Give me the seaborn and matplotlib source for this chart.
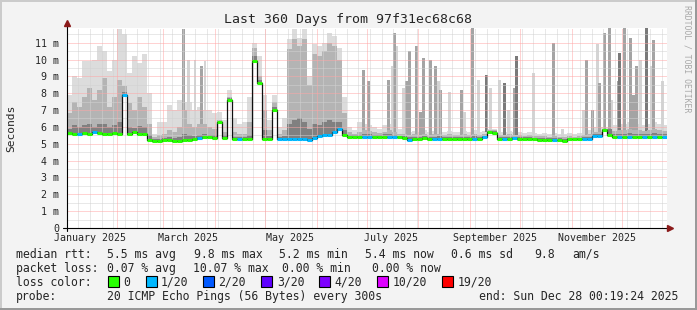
import numpy as np
import matplotlib
matplotlib.use("Agg")
import matplotlib.pyplot as plt
from matplotlib.patches import Rectangle
import seaborn as sns

# ---------------- data ----------------
# 120 buckets of 3 days, starting 2025-01-02
bucket_days = np.arange(0, 360, 3)

median_ms = [
    5.65, 5.6, 5.6, 5.65, 5.6, 5.7, 5.65, 5.6, 5.6, 5.65, 5.6, 7.9, 5.6, 5.7, 5.6, 5.6, 5.2, 5.15, 5.15,
    5.2, 5.2, 5.15, 5.15, 5.2, 5.25, 5.3, 5.35, 5.4, 5.4, 5.35, 6.3, 5.35, 7.6, 5.3, 5.3, 5.3, 5.3, 9.9, 8.6,
    5.3, 5.3, 7.0, 5.3, 5.3, 5.3, 5.3, 5.3, 5.3, 5.25, 5.35, 5.45, 5.5, 5.5, 5.7, 5.9, 5.5, 5.4, 5.4, 5.4,
    5.4, 5.42, 5.4, 5.4, 5.42, 5.4, 5.4, 5.38, 5.35, 5.25, 5.3, 5.3, 5.32, 5.3, 5.3, 5.3, 5.28, 5.3, 5.3, 5.3,
    5.3, 5.3, 5.3, 5.3, 5.4, 5.7, 5.65, 5.3, 5.3, 5.3, 5.32, 5.3, 5.3, 5.3, 5.28, 5.25, 5.25, 5.25, 5.25, 5.25,
    5.18, 5.3, 5.28, 5.28, 5.28, 5.3, 5.45, 5.45, 5.8, 5.5, 5.42, 5.42, 5.42, 5.42, 5.42, 5.42, 5.42, 5.42, 5.42, 5.42, 5.42,
]
loss_level = [
    0, 0, 1, 0, 0, 1, 0, 0, 0, 0, 0, 1, 0, 0, 0, 0, 0, 0, 0,
    0, 0, 0, 0, 0, 0, 0, 1, 0, 0, 0, 0, 0, 0, 0, 1, 0, 0, 0, 0,
    0, 0, 0, 1, 1, 1, 1, 1, 1, 1, 1, 1, 1, 1, 1, 1, 0, 0, 0, 0,
    1, 1, 0, 0, 0, 1, 1, 0, 0, 1, 0, 0, 0, 0, 1, 1, 0, 0, 0, 0,
    0, 0, 1, 0, 1, 0, 0, 0, 1, 0, 1, 0, 0, 0, 0, 0, 0, 0, 1, 0,
    0, 0, 0, 0, 1, 1, 1, 1, 0, 0, 0, 1, 0, 1, 0, 0, 1, 0, 1, 0, 1,
]
smoke_hi = [
    7.9, 9.0, 8.9, 9.9, 9.9, 10.0, 10.8, 10.5, 9.3, 10.0, 11.8, 11.5, 9.2, 10.2, 9.8, 10.3, 8.0, 5.6, 6.3,
    6.3, 7.3, 7.0, 7.6, 7.5, 7.5, 7.0, 7.2, 7.0, 7.0, 6.8, 6.9, 6.4, 8.2, 6.5, 6.2, 6.3, 7.8, 11.0, 10.2,
    7.9, 6.4, 7.9, 6.0, 6.5, 11.2, 11.8, 11.3, 11.8, 9.0, 10.9, 10.8, 11.0, 11.6, 11.4, 10.7, 7.8, 6.0, 5.8, 6.3,
    6.2, 6.1, 6.0, 5.9, 6.1, 6.2, 6.0, 5.9, 5.8, 5.7, 5.75, 5.7, 5.8, 5.7, 5.75, 5.8, 5.7, 5.75, 5.7, 5.7,
    5.75, 5.7, 5.8, 5.7, 5.75, 5.9, 5.9, 5.7, 5.7, 5.75, 5.7, 5.7, 5.65, 5.7, 5.65, 5.6, 5.65, 5.6, 5.65, 5.6,
    5.6, 5.65, 5.6, 5.65, 5.7, 5.8, 6.0, 6.0, 6.0, 6.0, 6.1, 6.2, 6.2, 6.3, 6.2, 6.2, 6.1, 6.2, 6.3, 6.2, 6.1,
]
smoke_mid = [
    6.8, 7.5, 7.2, 7.8, 8.3, 7.6, 8.2, 8.9, 7.2, 7.8, 8.8, 8.4, 7.4, 7.0, 7.8, 7.2, 6.2, 5.4, 5.5,
    5.6, 5.8, 5.7, 6.0, 7.0, 6.2, 6.0, 6.2, 6.2, 6.0, 5.9, 6.4, 5.7, 7.8, 5.7, 5.6, 5.6, 6.3, 10.7, 9.0,
    7.0, 5.8, 7.5, 5.6, 5.8, 10.6, 11.2, 10.8, 11.2, 8.5, 10.3, 10.2, 10.5, 11.0, 10.8, 10.0, 6.8, 5.7, 5.6, 5.7,
    5.8, 5.75, 5.7, 5.65, 5.7, 5.8, 5.7, 5.6, 5.55, 5.5, 5.55, 5.5, 5.55, 5.5, 5.55, 5.55, 5.5, 5.55, 5.5, 5.5,
    5.55, 5.5, 5.55, 5.5, 5.55, 5.8, 5.8, 5.5, 5.5, 5.55, 5.5, 5.5, 5.45, 5.5, 5.45, 5.45, 5.45, 5.4, 5.45, 5.4,
    5.4, 5.45, 5.4, 5.45, 5.5, 5.55, 5.7, 5.7, 5.9, 5.9, 5.75, 5.8, 5.8, 5.85, 5.8, 5.8, 5.75, 5.8, 5.85, 5.8, 5.75,
]
smoke_lo = [
    5.9, 6.1, 6.0, 6.1, 6.2, 6.0, 6.2, 6.2, 6.0, 6.1, 6.3, 8.1, 6.0, 5.95, 6.05, 6.0, 5.5, 5.3, 5.3,
    5.35, 5.4, 5.35, 5.4, 5.6, 5.5, 5.45, 5.5, 5.55, 5.5, 5.5, 6.3, 5.5, 7.7, 5.4, 5.4, 5.4, 5.5, 10.2, 8.8,
    5.8, 5.45, 7.2, 5.4, 5.45, 6.2, 6.4, 6.5, 6.3, 5.9, 6.2, 6.1, 6.3, 6.4, 6.3, 6.3, 5.8, 5.5, 5.5, 5.5,
    5.55, 5.55, 5.5, 5.5, 5.55, 5.6, 5.5, 5.45, 5.45, 5.4, 5.42, 5.4, 5.45, 5.4, 5.42, 5.45, 5.4, 5.42, 5.4, 5.4,
    5.42, 5.4, 5.45, 5.4, 5.48, 5.75, 5.75, 5.4, 5.4, 5.42, 5.4, 5.4, 5.38, 5.4, 5.35, 5.35, 5.35, 5.32, 5.35, 5.32,
    5.3, 5.35, 5.32, 5.35, 5.4, 5.42, 5.55, 5.55, 5.85, 5.85, 5.6, 5.6, 5.6, 5.65, 5.6, 5.6, 5.58, 5.6, 5.65, 5.6, 5.55,
]

# thin outlier spikes (day offset, top in ms, shade)
spike_day = [70.2, 73.2, 77.1, 81.0, 83.1,
             178.2, 181.2, 193.2, 195.6, 196.8, 198.0, 202.2, 204.0, 205.8, 210.0, 212.4, 214.2, 218.4,
             221.4, 223.2, 224.4, 229.8, 237.0, 238.8, 243.6, 247.2, 252.0, 254.4, 259.8, 262.8, 265.2,
             268.8, 270.0, 280.2, 292.2, 297.6, 310.2, 312.0, 315.6, 318.6, 319.8, 322.8, 325.8, 327.0,
             331.2, 331.8, 334.8, 338.4, 340.2, 342.0, 344.4, 348.0, 351.0, 352.2, 357.6]
spike_top = [11.8, 10.0, 10.0, 9.6, 9.9,
             9.4, 8.7, 8.8, 9.6, 11.6, 10.8, 8.3, 8.7, 10.5, 10.8, 6.9, 10.1, 10.0,
             9.6, 8.7, 8.2, 8.1, 8.2, 6.9, 11.85, 8.8, 9.1, 8.3, 8.8, 8.6, 7.0,
             8.3, 10.2, 9.2, 11.0, 5.9, 7.0, 10.0, 7.0, 10.9, 8.6, 11.55, 11.85, 7.6,
             8.7, 10.4, 11.85, 11.3, 7.9, 9.6, 10.0, 11.85, 9.6, 11.15, 8.7]
spike_shade = ['m', 'l', 'l', 'm', 'l',
               'm', 'm', 'm', 'l', 'm', 'l', 'l', 'm', 'm', 'm', 'm', 'm', 'm',
               'm', 'l', 'm', 'l', 'm', 'l', 'm', 'l', 'd', 'l', 'l', 'd', 'l',
               'm', 'd', 'l', 'm', 'l', 'l', 'm', 'm', 'l', 'm', 'm', 'm', 'l',
               'm', 'd', 'm', 'm', 'm', 'm', 'l', 'd', 'l', 'm', 'l']

month_start_days = [30, 58, 89, 119, 150, 180, 211, 242, 272, 303, 333]
month_label_days = [14, 73, 134, 195, 257, 318]
month_labels = ["January 2025", "March 2025", "May 2025", "July 2025",
                "September 2025", "November 2025"]
week_days = list(range(7, 360, 7))
y_ticks = list(range(0, 12))
y_labels = ["0"] + [f"{v} m" for v in range(1, 12)]
y_minor = list(np.arange(0.5, 12, 1.0))

loss_names = ["0", "1/20", "2/20", "3/20", "4/20", "10/20", "19/20"]
loss_colors = ["#26ff00", "#00b8ff", "#0059ff", "#5e00ff", "#7e00ff", "#dd00ff", "#ff0000"]

title = "Last 360 Days from 97f31ec68c68"
rtt_items = ["median rtt:", "5.5 ms avg", "9.8 ms max", "5.2 ms min", "5.4 ms now",
             "0.6 ms sd", "9.8", "am/s"]
loss_items = ["packet loss:", "0.07 % avg", "10.07 % max", "0.00 % min", "0.00 % now"]
probe_items = ["probe:", "20 ICMP Echo Pings (56 Bytes) every 300s",
               "end: Sun Dec 28 00:19:24 2025"]

# ---------------- style ----------------
sns.set_style("white")
plt.rcParams["font.family"] = ["DejaVu Sans Mono"]

W, H = 697, 310
fig = plt.figure(figsize=(W / 100, H / 100), dpi=100)
fig.patch.set_facecolor("#f3f3f3")


def fx(px):
    return px / W


def fy(py):
    return 1 - py / H


YTOP = 11.87
ax = fig.add_axes([fx(66.5), 82 / H, 600 / W, 200 / H])
ax.set_facecolor("white")
for s in ax.spines.values():
    s.set_visible(False)

edges = np.append(bucket_days, 360)
med = np.array(median_ms)


def ext(a):
    a = np.asarray(a, dtype=float)
    return np.append(a, a[-1])


# smoke: lightest layer
ax.fill_between(edges, ext(med), ext(smoke_hi), step="post", color="#dcdcdc", lw=0, zorder=1)

# spikes
shade_col = {"l": "#d4d4d4", "m": "#a4a4a4", "d": "#7a7a7a"}
for sh in ["l", "m", "d"]:
    xs = [d for d, s in zip(spike_day, spike_shade) if s == sh]
    tops = [t for t, s in zip(spike_top, spike_shade) if s == sh]
    base = [median_ms[int(d // 3)] for d in xs]
    ax.bar(xs, np.array(tops) - np.array(base), bottom=base, width=1.3,
           color=shade_col[sh], lw=0, zorder=1.2)

ax.fill_between(edges, ext(med), ext(smoke_mid), step="post", color="#b4b4b4", lw=0, zorder=1.4)
ax.fill_between(edges, ext(med), ext(smoke_lo), step="post", color="#808080", lw=0, zorder=1.5)

# dotted grid drawn over the smoke, as rrdtool does
dot = (0, (1, 1))
ax.vlines(week_days, 0, YTOP, colors="#d2d2d2", lw=0.72, linestyles=dot, zorder=2.4)
ax.hlines(y_minor, 0, 360, colors="#d2d2d2", lw=0.72, linestyles=dot, zorder=2.4)
ax.vlines(month_start_days, 0, YTOP, colors="#ffa6a6", lw=0.72, linestyles=dot, zorder=2.5)
ax.hlines(y_ticks[1:], 0, 360, colors="#ffa6a6", lw=0.72, linestyles=dot, zorder=2.5)

# median: dark line + loss-coloured segments
sns.lineplot(x=edges, y=ext(med), drawstyle="steps-post", color="#111111", lw=0.9,
             ax=ax, estimator=None, sort=False, zorder=3)
ax.hlines(med, edges[:-1], edges[1:], colors=[loss_colors[l] for l in loss_level],
          lw=2.2, zorder=4)
ax.set_xlabel("")
ax.set_ylabel("")
ax.set_xlim(0, 360)
ax.set_ylim(0, YTOP)

ax.set_xticks(month_label_days, labels=month_labels)
ax.set_yticks(y_ticks, labels=y_labels)
ax.tick_params(axis="x", which="both", length=0, labelsize=7.2, pad=3.6)
ax.tick_params(axis="y", which="major", length=3, width=0.7, color="black",
               direction="out", labelsize=7.2, pad=2.2)

# axes with arrows
ax.plot([0, 0], [-0.015, 1.02], transform=ax.transAxes, color="black", lw=0.8,
        clip_on=False, zorder=6)
ax.plot([-0.006, 1.003], [0, 0], transform=ax.transAxes, color="black", lw=0.8,
        clip_on=False, zorder=6)
ax.plot([0], [1.026], marker="^", ms=4.5, color="#8b1a1a", transform=ax.transAxes,
        clip_on=False, zorder=7)
ax.plot([1.006], [0], marker=">", ms=4.5, color="#8b1a1a", transform=ax.transAxes,
        clip_on=False, zorder=7)

# texts
fig.text(fx(348), fy(19), title, ha="center", va="center", fontsize=9.5)
fig.text(fx(11), fy(128), "Seconds", rotation=90, ha="center", va="center", fontsize=8.1)
fig.text(fx(686.5), fy(59), "RRDTOOL / TOBI OETIKER", rotation=270, ha="center",
         va="center", fontsize=5.9, color="#a8a8a8")

LF = 8.3
rtt_x = [16, 107.3, 194, 279.3, 365, 451, 534.3, 572.3]
for t, x in zip(rtt_items, rtt_x):
    fig.text(fx(x), fy(254.3), t, ha="left", va="center", fontsize=LF)
loss_x = [16, 107.3, 193.3, 282.3, 372.3]
for t, x in zip(loss_items, loss_x):
    fig.text(fx(x), fy(268.3), t, ha="left", va="center", fontsize=LF)
fig.text(fx(16), fy(282.3), "loss color:", ha="left", va="center", fontsize=LF)
sq_x = [108.3, 146, 203.3, 261.3, 319.3, 377.3, 442.3]
lbl_x = [123.3, 160.3, 218, 277, 334, 392.3, 457.3]
for name, col, sx, lx in zip(loss_names, loss_colors, sq_x, lbl_x):
    fig.add_artist(Rectangle((fx(sx), fy(286.5)), 10.5 / W, 10.5 / H, transform=fig.transFigure,
                             facecolor=col, edgecolor="black", lw=0.8))
    fig.text(fx(lx), fy(282.3), name, ha="left", va="center", fontsize=LF)
probe_x = [16, 107.3, 479.3]
for t, x in zip(probe_items, probe_x):
    fig.text(fx(x), fy(296.2), t, ha="left", va="center", fontsize=LF)

# frame shading
fig.add_artist(Rectangle((0, fy(2)), 1, 2 / H, transform=fig.transFigure, color="#cbcbcb", lw=0))
fig.add_artist(Rectangle((0, 0), 2 / W, 1, transform=fig.transFigure, color="#cbcbcb", lw=0))
fig.add_artist(Rectangle((0, 0), 1, 2 / H, transform=fig.transFigure, color="#999999", lw=0))
fig.add_artist(Rectangle((fx(695), 0), 2 / W, 1, transform=fig.transFigure, color="#999999", lw=0))

fig.savefig("out.png", dpi=100, facecolor=fig.get_facecolor())
